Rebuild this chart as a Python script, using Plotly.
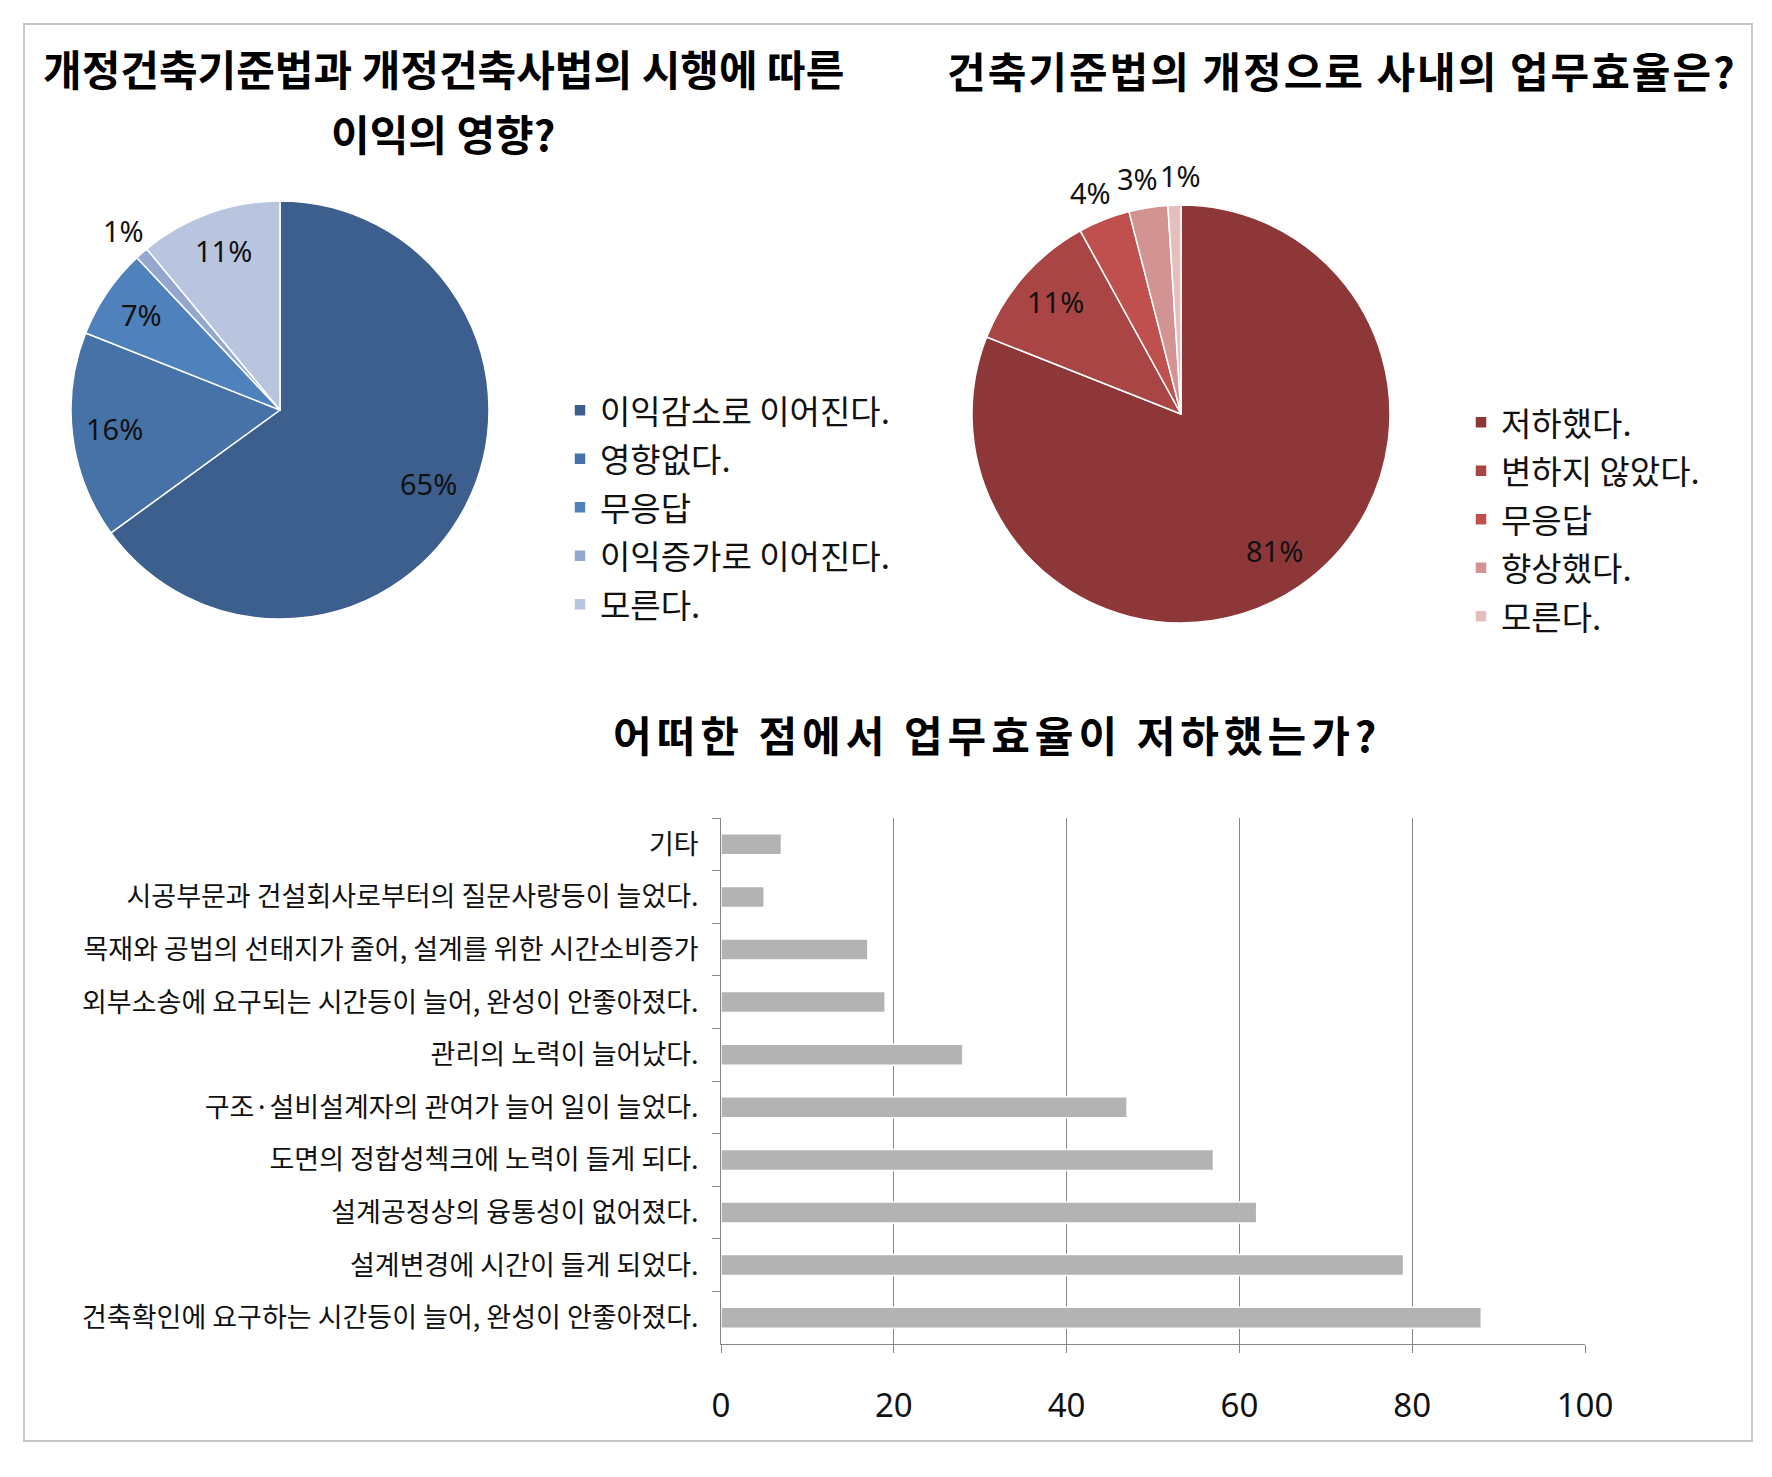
import math
import plotly.graph_objects as go

W, H = 1772, 1477

# ---------------- data ----------------
title1_lines = ["개정건축기준법과 개정건축사법의 시행에 따른", "이익의 영향?"]
pie1_labels = ["이익감소로 이어진다.", "영향없다.", "무응답", "이익증가로 이어진다.", "모른다."]
pie1_values = [65, 16, 7, 1, 11]
pie1_text = ["65%", "16%", "7%", "1%", "11%"]
pie1_outside = [False, False, False, True, False]
pie1_colors = ["#3c5f8e", "#4672a8", "#4f81bd", "#94a8cf", "#b9c5df"]

title2 = "건축기준법의 개정으로 사내의 업무효율은?"
# (zero-width space keeps these legend entries separate from the identical left-pie labels)
pie2_labels = ["저하했다.", "변하지 않았다.", "무응답\u200b", "향상했다.", "모른다.\u200b"]
pie2_values = [81, 11, 4, 3, 1]
pie2_text = ["81%", "11%", "4%", "3%", "1%"]
pie2_outside = [False, False, True, True, True]
pie2_colors = ["#8e3738", "#a94545", "#c0504d", "#d29392", "#e5bebe"]

title3 = "어떠한 점에서 업무효율이 저하했는가?"
bar_categories = [
    "기타",
    "시공부문과 건설회사로부터의 질문사랑등이 늘었다.",
    "목재와 공법의 선태지가 줄어, 설계를 위한 시간소비증가",
    "외부소송에 요구되는 시간등이 늘어, 완성이 안좋아졌다.",
    "관리의 노력이 늘어났다.",
    "구조·설비설계자의 관여가 늘어 일이 늘었다.",
    "도면의 정합성첵크에 노력이 들게 되다.",
    "설계공정상의 융통성이 없어졌다.",
    "설계변경에 시간이 들게 되었다.",
    "건축확인에 요구하는 시간등이 늘어, 완성이 안좋아졌다.",
]
bar_values = [7, 5, 17, 19, 28, 47, 57, 62, 79, 88]
x_ticks = [0, 20, 40, 60, 80, 100]

# ---------------- layout helpers (page pixels -> paper fractions) ----------------
KR = "Noto Sans CJK KR"
NUM = "Noto Sans"
OFF = 8  # page body margin


def fx(px):
    return (px - OFF) / W


def fy(py):
    return 1 - (py - OFF) / H


PIE1_C, PIE2_C, PIE_R = (280, 410), (1181, 414), 209
pie1_xshift = [0, 0, 0, 0, 0]
pie2_xshift = [0, 0, -4, -7, 7]


def pie_domain(c, r):
    cx, cy = c
    return dict(x=[fx(cx - r), fx(cx + r)], y=[fy(cy + r), fy(cy - r)])


def pie_label_annotations(c, r, values, texts, outside, shifts):
    cx, cy = c
    total = float(sum(values))
    cum = 0.0
    anns = []
    for v, t, out, sh in zip(values, texts, outside, shifts):
        theta = 2 * math.pi * (cum + v / 2.0) / total
        cum += v
        k = 1.13 if out else 0.8
        px = cx + k * r * math.sin(theta)
        py = cy - k * r * math.cos(theta) - 2
        anns.append(dict(x=fx(px), y=fy(py), xref="paper", yref="paper", xshift=sh,
                         text=t, showarrow=False, xanchor="center", yanchor="middle",
                         font=dict(family=NUM, size=29, color="#111111")))
    return anns


def title_ann(text, cx, cy, spacing):
    return dict(x=fx(cx), y=fy(cy), xref="paper", yref="paper", showarrow=False,
                text='<span style="letter-spacing:%dpx"><b>%s</b></span>' % (spacing, text),
                font=dict(family=KR, size=42, color="#000000"),
                xanchor="center", yanchor="middle")


def legend_labels(labels):
    # legend row pitch follows the legend font size; the visible text is drawn a bit smaller
    return ['<span style="font-size:33px">%s</span>' % s for s in labels]


fig = go.Figure()

fig.add_trace(go.Pie(
    labels=legend_labels(pie1_labels), values=pie1_values, sort=False,
    direction="clockwise", rotation=0,
    marker=dict(colors=pie1_colors, line=dict(color="white", width=1.5)),
    textinfo="none", hoverinfo="skip", domain=pie_domain(PIE1_C, PIE_R), legend="legend",
))
fig.add_trace(go.Pie(
    labels=legend_labels(pie2_labels), values=pie2_values, sort=False,
    direction="clockwise", rotation=0,
    marker=dict(colors=pie2_colors, line=dict(color="white", width=1.5)),
    textinfo="none", hoverinfo="skip", domain=pie_domain(PIE2_C, PIE_R), legend="legend2",
))
fig.add_trace(go.Bar(
    x=bar_values, y=bar_categories, orientation="h",
    marker=dict(color="#b3b3b3", line=dict(color="white", width=1.5)),
    showlegend=False, hoverinfo="skip", xaxis="x", yaxis="y",
))

annotations = []
annotations += pie_label_annotations(PIE1_C, PIE_R, pie1_values, pie1_text, pie1_outside, pie1_xshift)
annotations += pie_label_annotations(PIE2_C, PIE_R, pie2_values, pie2_text, pie2_outside, pie2_xshift)
annotations.append(title_ann(title1_lines[0], 443, 67, 0))
annotations.append(title_ann(title1_lines[1], 443, 133, 0))
annotations.append(title_ann(title2, 1342, 70, 2))
annotations.append(title_ann(title3, 997, 734, 5))

legend_font = dict(family=KR, size=35, color="#111111")

fig.update_layout(
    width=W, height=H,
    margin=dict(l=0, r=0, t=0, b=0, pad=0, autoexpand=False),
    paper_bgcolor="white", plot_bgcolor="white",
    bargap=0.6,
    annotations=annotations,
    legend=dict(x=fx(560), y=fy(381), xanchor="left", yanchor="top",
                font=legend_font, bgcolor="rgba(0,0,0,0)", borderwidth=0),
    legend2=dict(x=fx(1461), y=fy(393), xanchor="left", yanchor="top",
                 font=legend_font, bgcolor="rgba(0,0,0,0)", borderwidth=0),
    xaxis=dict(domain=[fx(721), fx(1585)], range=[0, 100], tickvals=x_ticks,
               showgrid=True, gridcolor="#868686", gridwidth=1,
               showline=True, linecolor="#868686", linewidth=1,
               ticks="outside", ticklen=8, tickcolor="#868686", zeroline=False,
               ticklabelstandoff=24, automargin=False,
               tickfont=dict(family=NUM, size=33, color="#111111"), anchor="y"),
    yaxis=dict(domain=[fy(1344), fy(818)], autorange="reversed",
               showline=True, linecolor="#868686", linewidth=1,
               ticks="outside", ticklen=8, tickcolor="#868686", tickson="boundaries",
               showgrid=False, zeroline=False, ticklabelstandoff=16, automargin=False,
               tickfont=dict(family=KR, size=27, color="#111111"), anchor="x"),
    shapes=[dict(type="rect", xref="paper", yref="paper",
                 x0=fx(24), x1=fx(1752), y0=fy(1441), y1=fy(24),
                 line=dict(color="#c6c6c6", width=2), fillcolor="rgba(0,0,0,0)")],
)

fig.write_html("out.html")
